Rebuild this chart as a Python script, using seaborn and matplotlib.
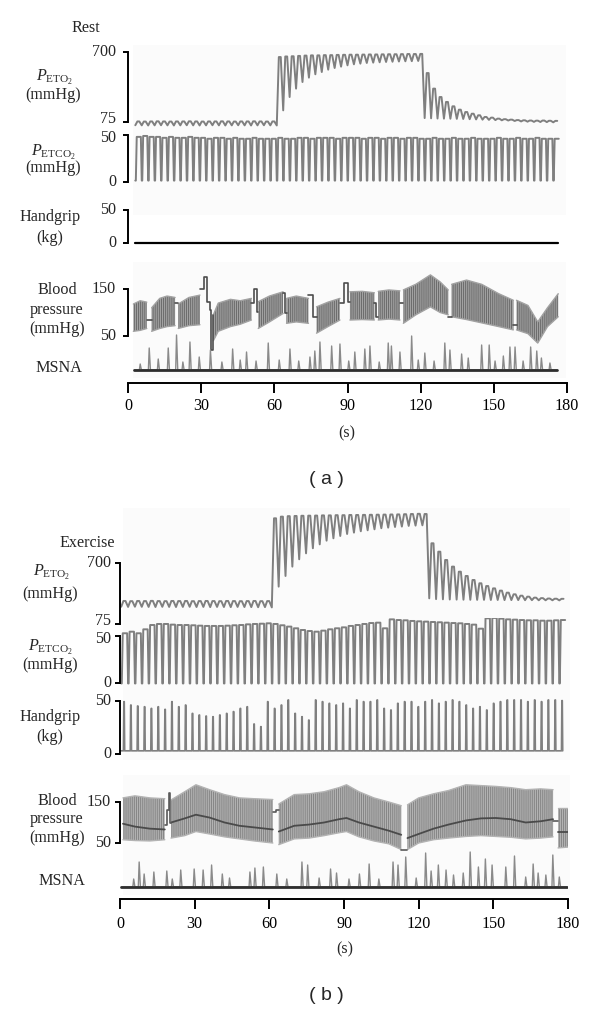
import numpy as np
import matplotlib
matplotlib.use('Agg')
import matplotlib.pyplot as plt
from matplotlib.patches import Rectangle
import seaborn as sns

sns.set_theme(style='white')
plt.rcParams['font.family'] = ['Liberation Serif', 'DejaVu Serif']
plt.rcParams['mathtext.fontset'] = 'custom'
plt.rcParams['mathtext.rm'] = 'Liberation Serif'
plt.rcParams['mathtext.it'] = 'Liberation Serif:italic'
plt.rcParams['hatch.linewidth'] = 0.7

nan = np.nan

# ---------------- panel (a): rest ----------------
# end-tidal O2 per breath (mmHg): trough before each breath, then its peak
peto2_a_trough = [46, 45, 44, 45, 46, 45, 44, 45, 46, 45, 44, 45, 46, 45, 44, 45, 46, 45, 44, 45, 46, 45, 44,
                  179, 298, 373, 432, 471, 501, 521, 542, 557, 569, 581, 590, 596, 602, 605, 608, 611, 613, 615, 617, 618, 620,
                  110, 108, 106, 105, 104, 103, 102, 100, 98, 96, 94, 92, 90, 88, 84, 80, 78, 76, 75, 74, 72]
peto2_a_peak = [80, 79, 80, 81, 80, 79, 80, 80, 81, 80, 79, 80, 80, 81, 80, 79, 80, 80, 81, 80, 79, 80,
                655, 660, 662, 665, 668, 670, 670, 672, 672, 674, 675, 676, 676, 677, 678, 678, 679, 680, 680, 681, 682, 682, 683,
                512, 373, 298, 254, 215, 185, 164, 149, 135, 120, 114, 105, 100, 96, 92, 90, 88, 87, 88, 86, 85]
# end-tidal CO2 per breath (mmHg)
petco2_a_peak = [48, 49, 48, 48, 47, 48, 47, 47, 48, 47, 47, 46, 47, 47, 46, 47, 46, 46, 47, 46, 46, 46,
                 47, 46, 46, 47, 47, 46, 47, 47, 47, 46, 47, 47, 47, 46, 47, 47, 46, 47, 47, 46, 47, 47,
                 46, 46, 47, 46, 46, 47, 46, 46, 47, 46, 46, 46, 47, 46, 46, 47, 46, 46, 47, 46, 46, 46]
petco2_a_floor = 1.5
breath_a_span = [3.0, 177.0]
handgrip_a_level = 0.0
handgrip_a_span = [2.9, 176.2]

# blood pressure envelope (mmHg), NaN separates recording segments
bp_a_time = [2.2, 5, 7.7, nan, 9.7, 13, 16, 19.3, nan, 20.6, 25, 29.5, nan, 35, 37, 42, 46, 50.6, nan,
             53.4, 58, 63.6, nan, 65, 69, 74, nan, 77.3, 82, 86.9, nan, 91, 96, 101, nan, 102.6, 107, 111.5, nan,
             112.9, 118, 124, 128, 131.3, nan, 132.7, 138.8, 145, 152, 158, nan, 159.3, 164, 168, 172, 176.4]
bp_a_sys = [118, 125, 122, nan, 110, 130, 135, 132, nan, 118, 132, 137, nan, 95, 120, 128, 125, 130, nan,
            123, 135, 144, nan, 130, 135, 130, nan, 112, 122, 130, nan, 144, 145, 142, nan, 145, 148, 146, nan,
            148, 160, 180, 165, 148, nan, 160, 169, 160, 140, 126, nan, 126, 115, 80, 110, 140]
bp_a_dia = [60, 62, 66, nan, 60, 66, 70, 72, nan, 66, 72, 74, nan, 40, 60, 70, 75, 84, nan,
            66, 80, 98, nan, 77, 80, 77, nan, 56, 70, 84, nan, 84, 85, 84, nan, 84, 86, 84, nan,
            77, 95, 112, 100, 95, nan, 91, 85, 78, 70, 63, nan, 63, 55, 35, 70, 91]
# calibration steps between segments
bp_a_step_time = [7.7, 9.7, nan, 19.3, 20.6, nan, 29.5, 31, 32.5, 33.5, 34.2, 35, nan, 50.6, 51.5, 53, 53.4, nan,
                  63.6, 64.4, 65, nan, 74, 76, 77.3, nan, 86.9, 88.5, 90, 91, nan, 101, 101.8, 102.6, nan,
                  111.5, 112.9, nan, 131.3, 132.7, nan, 158, 159.3]
bp_a_step_val = [85, 85, nan, 120, 120, nan, 151, 176, 123, 105, 20, 95, nan, 120, 151, 102, 102, nan,
                 141, 100, 100, nan, 137, 91, 91, nan, 120, 162, 123, 123, nan, 120, 91, 91, nan,
                 120, 120, nan, 91, 91, nan, 73, 73]

# MSNA bursts: time (s) and amplitude (a.u.)
msna_a_time = [5.0, 8.7, 12.4, 16.5, 19.9, 22.5, 25.4, 29.2, 33.8, 38.5, 42.9, 46, 48.6, 52.5, 57.5, 62, 66.4, 70,
               74.6, 76.6, 78.7, 83.5, 86.9, 90.5, 93.0, 97.1, 99.2, 103, 106.7, 108.0, 111.5, 116.3, 119, 121.7,
               125.5, 129.9, 132.0, 136.8, 139.5, 145.0, 148.1, 150.5, 153.9, 156.6, 158.7, 162, 165.1, 167.6, 169.5, 173]
msna_a_amp = [6, 22, 11, 22, 35, 8, 28, 13, 20, 8, 21, 10, 18, 9, 27, 10, 21, 9,
              13, 19, 28, 24, 26, 9, 18, 21, 24, 8, 27, 24, 18, 34, 10, 17,
              9, 27, 20, 16, 12, 25, 25, 9, 14, 23, 23, 9, 23, 19, 12, 7]
msna_a_span = [2.5, 176.0]

# ---------------- panel (b): exercise ----------------
peto2_b_trough = [252, 250, 252, 251, 250, 249, 251, 250, 249, 250, 251, 249, 250, 248, 250, 249, 248, 250, 249, 248, 247, 248, 245,
                  458, 567, 663, 738, 799, 851, 891, 929, 953, 977, 997, 1011, 1025, 1035, 1045, 1056, 1062, 1069, 1073, 1080, 1083, 1086,
                  338, 330, 328, 326, 325, 324, 323, 322, 322, 321, 321, 320, 320, 320, 319, 319, 318, 318, 318, 317]
peto2_b_peak = [311, 309, 311, 310, 312, 310, 309, 311, 310, 311, 309, 310, 311, 310, 309, 311, 310, 309, 310, 311, 309, 310,
                1158, 1175, 1180, 1182, 1184, 1185, 1186, 1188, 1188, 1190, 1190, 1192, 1192, 1193, 1194, 1195, 1196, 1197, 1198, 1200, 1202, 1204, 1202,
                902, 816, 731, 663, 611, 567, 526, 492, 464, 440, 417, 396, 379, 365, 355, 345, 340, 336, 334, 333]
petco2_b_peak = [52.9, 54.6, 52.9, 57.1, 61.7, 62.8, 62.8, 62.1, 61.7, 61.7, 61.4, 61.0, 60.7, 60.7, 60.7, 61.0, 61.4,
                 61.7, 62.4, 62.8, 63.1, 63.5, 62.8, 61.4, 60.0, 58.2, 56.4, 55.3, 54.6, 55.7, 57.1, 58.2, 59.2,
                 60.7, 61.7, 62.8, 63.8, 64.2, 58.2, 67.7, 67.0, 66.7, 66.0, 65.6, 65.3, 64.9, 64.6, 64.2, 63.8,
                 63.5, 62.8, 62.1, 57.8, 68.8, 69.2, 68.5, 67.7, 67.4, 67.0, 66.7, 66.7, 66.3, 66.3, 66.7, 67.0]
petco2_b_floor = -0.5
breath_b_span = [0.5, 179.25]
# handgrip squeeze peaks (kg)
handgrip_b_peak = [49.4, 46.2, 45.3, 44.6, 43.0, 44.6, 42.1, 49.4, 44.6, 46.2,
                   38.3, 36.8, 35.8, 35.2, 36.8, 38.3, 40.0, 43.0, 44.6, 28.3,
                   25.8, 49.4, 43.0, 46.2, 51.0, 38.3, 35.2, 32.0, 51.0, 49.4,
                   47.8, 46.2, 47.8, 43.0, 51.0, 49.4, 49.4, 51.0, 43.0, 41.5,
                   47.8, 49.4, 49.4, 44.6, 49.4, 51.0, 47.8, 49.4, 51.0, 49.4,
                   46.2, 43.0, 44.6, 41.5, 47.8, 49.4, 51.0, 51.0, 51.0, 49.4,
                   51.0, 49.4, 51.0, 51.0, 50.4]
handgrip_b_base = 3.0

bp_b_time = [1.2, 6, 12, 18, nan, 20.5, 26, 30.5, 36, 42, 48, 54, 61.4, nan, 63.8, 70, 76, 82, 88, 91, 96, 102, 108, 113, nan,
             115.5, 120, 126, 132, 139, 145, 151, 157, 163, 169, 174, nan, 176, 180]
bp_b_sys = [160, 165, 160, 158, nan, 155, 175, 192, 180, 168, 160, 158, 156, nan, 145, 168, 170, 175, 185, 192, 175, 160, 150, 141, nan,
            143, 160, 170, 178, 192, 190, 188, 185, 180, 182, 180, nan, 135, 135]
bp_b_dia = [58, 56, 55, 58, nan, 62, 68, 78, 72, 65, 60, 55, 50, nan, 46, 60, 62, 68, 75, 78, 65, 55, 48, 34, nan,
            34, 50, 58, 62, 66, 68, 66, 64, 60, 62, 65, nan, 38, 40]
bp_b_mean = [97, 90, 85, 83, nan, 100, 110, 119, 112, 100, 92, 88, 83, nan, 78, 92, 95, 100, 108, 111, 100, 90, 80, 70, nan,
             62, 72, 85, 95, 105, 110, 111, 108, 100, 103, 108, nan, 78, 78]
bp_b_step_time = [18, 18.8, 19.6, 20.2, 20.5, nan, 61.4, 62.8, 63.8, nan, 113, 115.5, nan, 174, 176]
bp_b_step_val = [95, 131, 172, 100, 100, nan, 125, 131, 131, nan, 34, 34, nan, 103, 103]

msna_b_time = [5.5, 7.7, 9.7, 13.6, 18.8, 21, 24.4, 29.8, 33.4, 36.8, 41.1, 44, 52.2, 54.2, 57.6, 63, 67, 73.1,
               75.4, 80, 84.6, 87, 92, 96.2, 100.1, 104, 109.7, 111.7, 114.8, 119, 122.8, 125, 127.9, 131, 134,
               137.9, 140.7, 144.0, 146.8, 149.5, 155, 158.5, 163, 166, 168, 171.1, 173.9, 176.5]
msna_b_amp = [8, 25, 13, 15, 16, 8, 17, 18, 17, 22, 13, 9, 15, 19, 20, 13, 8, 25,
              22, 9, 18, 14, 8, 13, 23, 8, 25, 22, 30, 9, 34, 16, 22, 17, 12,
              14, 35, 20, 28, 22, 20, 31, 10, 23, 14, 12, 32, 10]
msna_b_span = [0.5, 179.5]

# ---------------- drawing helpers ----------------
W, H = 600, 1009
fig = plt.figure(figsize=(W / 100, H / 100), dpi=100)
FS = 11.6
TRACE = '#7f7f7f'


def px_axes(x0, x1, top, bot):
    ax = fig.add_axes([x0 / W, 1 - bot / H, (x1 - x0) / W, (bot - top) / H])
    ax.patch.set_alpha(0)
    ax.set_xlim(0, 180)
    for side in ['top', 'right', 'bottom', 'left']:
        ax.spines[side].set_visible(False)
    ax.set_xticks([])
    ax.set_yticks([])
    return ax


def label(x, y, s, ha='center', **kw):
    fig.text(x / W, 1 - y / H, s, ha=ha, va='center', fontsize=FS, **kw)


def trace_axes(x0, x1, top, bot, lo, lo_px, hi, hi_px, lab_x, lo_shift=0, hi_shift=0):
    ax = px_axes(x0, x1, top, bot)
    s = (hi - lo) / (lo_px - hi_px)
    ax.set_ylim(lo - (bot - lo_px) * s, hi + (hi_px - top) * s)
    ax.spines['left'].set_visible(True)
    ax.spines['left'].set_bounds(lo, hi)
    ax.spines['left'].set_color('black')
    ax.spines['left'].set_linewidth(1.4)
    ax.set_yticks([lo, hi])
    ax.set_yticklabels([])
    ax.tick_params(axis='y', direction='out', length=3.5, width=1.4, left=True, colors='black')
    # tick numbers placed by hand so stacked scales stay readable
    label(lab_x, lo_px + lo_shift, f'{lo:g}', ha='right')
    label(lab_x, hi_px + hi_shift, f'{hi:g}', ha='right')
    return ax


def breath_wave(span, troughs, peaks, phases):
    n = len(peaks)
    troughs = np.broadcast_to(troughs, (n,))
    edges = np.linspace(span[0], span[1], n + 1)
    T = edges[1] - edges[0]
    xs, ys = [], []
    for i in range(n):
        for ph, use_peak in phases:
            xs.append(edges[i] + ph * T)
            ys.append(peaks[i] if use_peak else troughs[i])
    return np.array(xs), np.array(ys)


O2_SHAPE = [(0.0, False), (0.32, True), (0.62, True)]
CO2_SHAPE = [(0.0, False), (0.08, False), (0.22, True), (0.86, True)]
GRIP_SHAPE = [(0.0, False), (0.32, False), (0.38, True), (0.44, True), (0.5, False)]


def msna_wave(span, times, amps):
    xs, ys = [span[0]], [0.0]
    for t, a in zip(times, amps):
        xs += [t - 0.35, t, t + 0.5]
        ys += [0.0, a, 0.0]
    xs.append(span[1])
    ys.append(0.0)
    return np.array(xs), np.array(ys)


def split_nan(*cols):
    cols = [np.asarray(c, dtype=float) for c in cols]
    breaks = np.where(np.isnan(cols[0]))[0]
    start = 0
    for b in list(breaks) + [len(cols[0])]:
        if b > start:
            yield [c[start:b] for c in cols]
        start = b + 1


def line(ax, x, y, color=TRACE, lw=1.4, **kw):
    sns.lineplot(x=x, y=y, ax=ax, color=color, linewidth=lw, sort=False, estimator=None, **kw)


def bp_band(ax, t, sysv, diav, face, hatch_col):
    for tt, ss, dd in split_nan(t, sysv, diav):
        ax.fill_between(tt, dd, ss, facecolor=face, edgecolor=hatch_col, hatch='||||||||', linewidth=0)
        line(ax, tt, ss, color=face, lw=1.0)
        line(ax, tt, dd, color=face, lw=1.0)


def steps(ax, t, v, color):
    for tt, vv in split_nan(t, v):
        ax.step(tt, vv, where='post', color=color, linewidth=1.2)


def shade(x0, y0, x1, y1):
    fig.patches.append(Rectangle((x0 / W, 1 - y1 / H), (x1 - x0) / W, (y1 - y0) / H,
                                 transform=fig.transFigure, facecolor='#fbfbfb', edgecolor='none', zorder=-5))


PO2 = r'$P_{\mathrm{ETO}_2}$'
PCO2 = r'$P_{\mathrm{ETCO}_2}$'

# faint recording background
shade(133, 45, 566, 215)
shade(133, 262, 566, 378)
shade(123, 508, 570, 760)
shade(123, 775, 570, 895)

# ---------------- panel (a) ----------------
xa0, xa1 = 128, 567
ax = trace_axes(xa0, xa1, 40, 140, 75, 122, 700, 52, 116, lo_shift=-3)
line(ax, *breath_wave(breath_a_span, peto2_a_trough, peto2_a_peak, O2_SHAPE))

ax = trace_axes(xa0, xa1, 128, 195, 0, 182, 50, 135, 116, hi_shift=3)
line(ax, *breath_wave(breath_a_span, petco2_a_floor, petco2_a_peak, CO2_SHAPE))

ax = trace_axes(xa0, xa1, 200, 252, 0, 243, 50, 210, 116)
line(ax, handgrip_a_span, [handgrip_a_level] * 2, color='black', lw=1.6)

ax = trace_axes(xa0, xa1, 262, 362, 50, 336, 150, 289, 116)
bp_band(ax, bp_a_time, bp_a_sys, bp_a_dia, '#a2a2a2', '#6a6a6a')
steps(ax, bp_a_step_time, bp_a_step_val, '#4d4d4d')

ax = px_axes(xa0, xa1, 330, 380)
ax.set_ylim(-10, 40)
line(ax, *msna_wave(msna_a_span, msna_a_time, msna_a_amp), color='#8a8a8a', lw=1.0)
line(ax, msna_a_span, [0, 0], color='#2e2e2e', lw=2.0)

axt = px_axes(xa0, xa1, 370, 383)
axt.spines['bottom'].set_visible(True)
axt.spines['bottom'].set_color('black')
axt.spines['bottom'].set_linewidth(1.4)
axt.set_xticks([0, 30, 60, 90, 120, 150, 180])
axt.tick_params(axis='x', direction='out', length=7, width=1.4, pad=4, labelsize=FS, bottom=True, colors='black')

label(86, 28, 'Rest')
label(55, 77, PO2)
label(53, 95, '(mmHg)')
label(53, 152, PCO2)
label(53, 168, '(mmHg)')
label(50, 217, 'Handgrip')
label(50, 238, '(kg)')
label(57, 290, 'Blood')
label(57, 310, 'pressure')
label(57, 329, '(mmHg)')
label(59, 368, 'MSNA')
label(347, 433, '(s)')
fig.text(326 / W, 1 - 480 / H, '( a )', ha='center', va='center', fontsize=14, family='Liberation Sans')

# ---------------- panel (b) ----------------
xb0, xb1 = 120, 568
ax = trace_axes(xb0, xb1, 505, 640, 75, 624, 700, 563, 111, lo_shift=-3)
line(ax, *breath_wave(breath_b_span, peto2_b_trough, peto2_b_peak, O2_SHAPE))

ax = trace_axes(xb0, xb1, 618, 695, 0, 683, 50, 636, 111, hi_shift=3)
line(ax, *breath_wave(breath_b_span, petco2_b_floor, petco2_b_peak, CO2_SHAPE))

ax = trace_axes(xb0, xb1, 695, 762, 0, 754, 50, 701, 111)
line(ax, *breath_wave(breath_b_span, handgrip_b_base, handgrip_b_peak, GRIP_SHAPE), lw=1.2)

ax = trace_axes(xb0, xb1, 772, 862, 50, 843, 150, 802, 111)
bp_band(ax, bp_b_time, bp_b_sys, bp_b_dia, '#b3b3b3', '#858585')
for tt, mm in split_nan(bp_b_time, bp_b_mean):
    line(ax, tt, mm, color='#4a4a4a', lw=1.3)
steps(ax, bp_b_step_time, bp_b_step_val, '#5a5a5a')

ax = px_axes(xb0, xb1, 847, 897)
ax.set_ylim(-10, 40)
line(ax, *msna_wave(msna_b_span, msna_b_time, msna_b_amp), color='#8a8a8a', lw=1.0)
line(ax, msna_b_span, [0, 0], color='#2e2e2e', lw=2.0)

axt = px_axes(xb0, xb1, 886, 899)
axt.spines['bottom'].set_visible(True)
axt.spines['bottom'].set_color('black')
axt.spines['bottom'].set_linewidth(1.4)
axt.set_xticks([0, 30, 60, 90, 120, 150, 180])
axt.tick_params(axis='x', direction='out', length=7, width=1.4, pad=5, labelsize=FS, bottom=True, colors='black')

label(87, 543, 'Exercise')
label(52, 572, PO2)
label(50, 594, '(mmHg)')
label(50, 647, PCO2)
label(50, 665, '(mmHg)')
label(50, 717, 'Handgrip')
label(50, 737, '(kg)')
label(57, 801, 'Blood')
label(57, 819, 'pressure')
label(57, 838, '(mmHg)')
label(62, 881, 'MSNA')
label(345, 949, '(s)')
fig.text(326 / W, 1 - 995 / H, '( b )', ha='center', va='center', fontsize=14, family='Liberation Sans')

fig.savefig('out.png', dpi=100)
